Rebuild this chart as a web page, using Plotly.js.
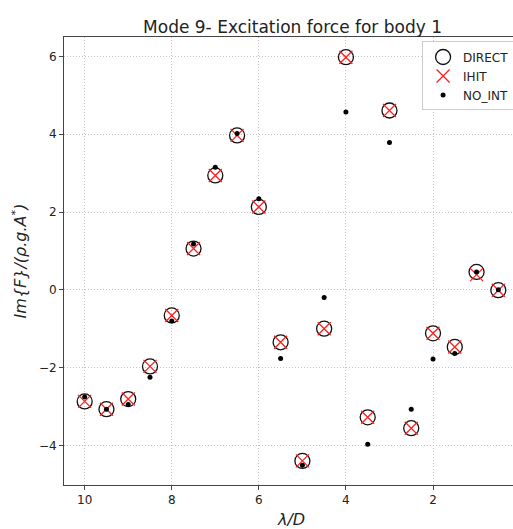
<!DOCTYPE html>
<html>
<head>
<meta charset="utf-8">
<script src="https://cdn.plot.ly/plotly-3.0.1.min.js"></script>
<style>
html,body{margin:0;padding:0;overflow:hidden;background:#fff;}
#chart{width:530px;height:529px;}
</style>
</head>
<body>
<div id="chart"></div>
<script>
const lambdaD = [10, 9.5, 9, 8.5, 8, 7.5, 7, 6.5, 6, 5.5, 5, 4.5, 4, 3.5, 3, 2.5, 2, 1.5, 1, 0.5];
const direct = [-2.87, -3.07, -2.81, -1.97, -0.66, 1.06, 2.94, 3.97, 2.13, -1.35, -4.40, -1.00, 5.98, -3.28, 4.61, -3.56, -1.12, -1.47, 0.46, -0.01];
const ihit   = [-2.87, -3.07, -2.81, -1.97, -0.66, 1.06, 2.94, 3.97, 2.13, -1.35, -4.40, -1.00, 5.98, -3.28, 4.61, -3.56, -1.12, -1.47, 0.39, -0.01];
const noInt  = [-2.76, -3.07, -2.95, -2.25, -0.80, 1.18, 3.15, 4.02, 2.34, -1.77, -4.51, -0.20, 4.57, -3.97, 3.79, -3.07, -1.78, -1.64, 0.46, 0.00];
const xTicks = [10, 8, 6, 4, 2, 0];
const yTicks = [-4, -2, 0, 2, 4, 6];

const font = "DejaVu Sans, sans-serif";
const traces = [
  {x: lambdaD, y: direct, name: "DIRECT", mode: "markers", type: "scatter",
   marker: {symbol: "circle-open", size: 15, color: "#111", line: {width: 1.3, color: "#111"}}},
  {x: lambdaD, y: ihit, name: "IHIT", mode: "markers", type: "scatter",
   marker: {symbol: "x-thin-open", size: 13, color: "#ff2020", line: {width: 1.3, color: "#ff2020"}}},
  {x: lambdaD, y: noInt, name: "NO_INT", mode: "markers", type: "scatter",
   marker: {symbol: "circle", size: 5, color: "#000"}}
];
const axisCommon = {
  showline: true, mirror: true, linecolor: "#444", linewidth: 1,
  ticks: "outside", ticklen: 4, tickcolor: "#444",
  showgrid: true, gridcolor: "#c4c4c4", griddash: "1px,2px", gridwidth: 1,
  zeroline: false, tickfont: {family: font, size: 12, color: "#222"}
};
const layout = {
  width: 530, height: 529,
  margin: {l: 64, r: 11, t: 37, b: 44},
  paper_bgcolor: "#fff", plot_bgcolor: "#fff",
  font: {family: font, color: "#222"},
  title: {text: "Mode 9- Excitation force for body 1", font: {family: font, size: 17, color: "#222"},
          x: 0.552, xanchor: "center", y: 0.948, yanchor: "middle"},
  xaxis: Object.assign({}, axisCommon, {
    range: [10.475, 0.025], tickvals: xTicks, ticktext: xTicks.map(String),
    title: {text: "<i>λ/D</i>", font: {family: font, size: 16, color: "#222"}, standoff: 8}
  }),
  yaxis: Object.assign({}, axisCommon, {
    range: [-5.02, 6.5], tickvals: yTicks, ticktext: yTicks.map(v => v < 0 ? "\u2212" + Math.abs(v) : String(v)),
    title: {text: "<i>Im{F}/(ρ.g.A<sup>*</sup>)</i>", font: {family: font, size: 16, color: "#222"}, standoff: 8}
  }),
  showlegend: true,
  legend: {x: 0.787, y: 0.99, xanchor: "left", yanchor: "top",
           bgcolor: "rgba(255,255,255,0.9)", bordercolor: "#ccc", borderwidth: 1,
           font: {family: font, size: 12, color: "#222"}, tracegroupgap: 0, itemwidth: 30}
};
Plotly.newPlot("chart", traces, layout, {displayModeBar: false, staticPlot: true});
</script>
</body>
</html>
